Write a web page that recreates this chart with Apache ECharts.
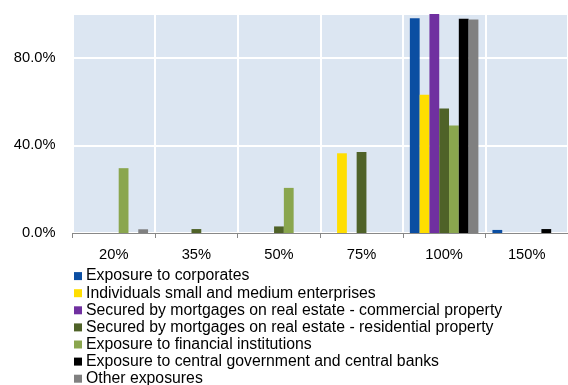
<!DOCTYPE html>
<html><head><meta charset="utf-8">
<script src="https://cdn.jsdelivr.net/npm/echarts@6/dist/echarts.min.js"></script>
<style>html,body{margin:0;padding:0;background:#fff}#c{width:568px;height:385px}</style>
</head><body><div id="c"></div>
<script>
const categories = ['20%','35%','50%','75%','100%','150%'];
const seriesNames = [
  'Exposure to corporates',
  'Individuals small and medium enterprises',
  'Secured by mortgages on real estate - commercial property',
  'Secured by mortgages on real estate - residential property',
  'Exposure to financial institutions',
  'Exposure to central government and central banks',
  'Other exposures'
];
const corporates  = [0, 0, 0, 0, 98.1, 1.4];
const sme         = [0, 0, 0, 36.4, 63.1, 0];
const commercial  = [0, 0, 0, 0, 100.5, 0];
const residential = [0, 1.8, 3.0, 37.0, 56.8, 0];
const financial   = [29.6, 0, 20.6, 0, 49.1, 0];
const central     = [0, 0, 0, 0, 97.8, 1.8];
const other       = [1.7, 0, 0, 0, 97.5, 0];
const colors = ['#0B4EA2','#FFDE00','#7030A0','#4F6228','#8AA64E','#000000','#808080'];
const allData = [corporates, sme, commercial, residential, financial, central, other];

const chart = echarts.init(document.getElementById('c'));
chart.setOption({
  animation: false,
  color: colors,
  textStyle: {fontFamily: 'Liberation Sans, Arial, sans-serif'},
  grid: {left: 72.5, right: -4, top: 14, height: 219, show: true, backgroundColor: '#DCE6F2', borderWidth: 0},
  legend: {
    orient: 'vertical', left: 74, top: 268, height: 140,
    itemWidth: 8, itemHeight: 8, itemGap: 0.9,
    icon: 'rect', padding: 0,
    textStyle: {fontSize: 15.8, color: '#000', padding: [0,0,0,-1], lineHeight: 16.2},
    data: seriesNames
  },
  xAxis: {
    type: 'category', data: categories,
    axisLine: {lineStyle: {color: '#888', width: 1}},
    axisTick: {show: true, alignWithLabel: false, length: 5, lineStyle: {color: '#888'}},
    axisLabel: {color: '#000', fontSize: 14.7, margin: 14},
    splitLine: {show: true, lineStyle: {color: '#fff', width: 2}}
  },
  yAxis: {
    type: 'value', min: 0, max: 100, interval: 40,
    axisLabel: {color: '#000', fontSize: 14.7, margin: 17, showMaxLabel: false,
      formatter: v => v.toFixed(1) + '%'},
    axisLine: {show: false}, axisTick: {show: false},
    splitLine: {lineStyle: {color: '#fff', width: 2}}
  },
  series: seriesNames.map((n, i) => ({
    name: n, type: 'bar', data: allData[i],
    barGap: '0%', barCategoryGap: '17%',
    itemStyle: {color: colors[i]}
  }))
});
</script></body></html>
